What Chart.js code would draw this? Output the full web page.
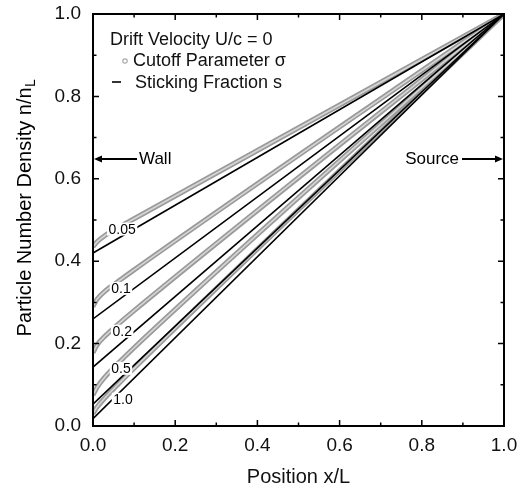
<!DOCTYPE html>
<html>
<head>
<meta charset="utf-8">
<script src="https://cdn.jsdelivr.net/npm/chart.js@4.4.1/dist/chart.umd.min.js"></script>
<style>
html,body{margin:0;padding:0;background:#fff;}
#wrap{width:531px;height:489px;position:relative;}
</style>
</head>
<body>
<div id="wrap"><canvas id="c" width="531" height="489"></canvas></div>
<script>
// ---------------- data ----------------
const xTickValues = [0, 0.2, 0.4, 0.6, 0.8, 1.0];
const yTickValues = [0, 0.2, 0.4, 0.6, 0.8, 1.0];
const caseLabels = ['0.05', '0.1', '0.2', '0.5', '1.0'];

// Sticking fraction s (black lines)
const stickX = [0, 1.0];
const stick005 = [0.420, 1.0];
const stick010 = [0.260, 1.0];
const stick020 = [0.143, 1.0];
const stick050 = [0.053, 1.0];
const stick100 = [0.018, 1.0];

// Cutoff parameter sigma (grey open-circle curves)
const cutX = [0, 0.01, 0.03, 0.06, 0.10, 1.0];
const cut005 = [0.435, 0.447, 0.463, 0.481, 0.503, 1.0];
const cut010 = [0.290, 0.308, 0.328, 0.350, 0.379, 1.0];
const cut020 = [0.178, 0.197, 0.219, 0.246, 0.280, 1.0];
const cut050 = [0.075, 0.094, 0.120, 0.151, 0.190, 1.0];
const cut100 = [0.030, 0.046, 0.069, 0.100, 0.140, 1.0];

// curve-label anchors (x, y in data units)
const labelX = [0.071, 0.068, 0.071, 0.068, 0.073];
const labelY = [0.478, 0.334, 0.230, 0.140, 0.065];

const wallLevel = 0.648;   // y of the Wall / Source arrows

// ---------------- build ----------------
const FONT = "'Liberation Sans', Arial, Helvetica, sans-serif";
const pts = (xs, ys) => xs.map((x, i) => ({x: x, y: ys[i]}));
const stickSeries = [stick005, stick010, stick020, stick050, stick100];
const cutSeries = [cut005, cut010, cut020, cut050, cut100];

const datasets = [];
stickSeries.forEach((s, i) => datasets.push({
  label: 'Sticking Fraction s = ' + caseLabels[i],
  data: pts(stickX, s), borderColor: '#000', borderWidth: 1.6,
  pointRadius: 0, fill: false, tension: 0, order: 1
}));
cutSeries.forEach((s, i) => datasets.push({
  label: 'Cutoff Parameter σ = ' + caseLabels[i] + ' (centre)',
  data: pts(cutX, s), borderColor: '#d6d6d6', borderWidth: 1.6,
  pointRadius: 0, fill: false, cubicInterpolationMode: 'monotone', order: 2
}));
cutSeries.forEach((s, i) => datasets.push({
  label: 'Cutoff Parameter σ = ' + caseLabels[i],
  data: pts(cutX, s), borderColor: '#9a9a9a', borderWidth: 5,
  pointRadius: 0, fill: false, cubicInterpolationMode: 'monotone', order: 3
}));

const decor = {
  id: 'decor',
  afterDatasetsDraw(chart) {
    const ctx = chart.ctx, xs = chart.scales.x, ys = chart.scales.y;
    ctx.save();
    ctx.font = '14px ' + FONT;
    ctx.textAlign = 'center';
    ctx.textBaseline = 'middle';
    caseLabels.forEach((t, i) => {
      const px = xs.getPixelForValue(labelX[i]), py = ys.getPixelForValue(labelY[i]);
      const w = ctx.measureText(t).width;
      ctx.fillStyle = '#fff';
      ctx.fillRect(px - w / 2 - 1.5, py - 6.5, w + 3, 13);
      ctx.fillStyle = '#000';
      ctx.fillText(t, px, py + 1);
    });
    ctx.restore();
  },
  afterDraw(chart) {
    const ctx = chart.ctx, a = chart.chartArea, xs = chart.scales.x, ys = chart.scales.y;
    ctx.save();
    // frame
    ctx.strokeStyle = '#000';
    ctx.lineWidth = 2;
    ctx.strokeRect(a.left, a.top, a.right - a.left, a.bottom - a.top);
    // inward ticks, all four sides
    ctx.lineWidth = 1.5;
    for (let k = 0; k <= 10; k++) {
      const v = k / 10, len = (k % 2 === 0) ? 6 : 3.5;
      const px = xs.getPixelForValue(v), py = ys.getPixelForValue(v);
      ctx.beginPath();
      ctx.moveTo(px, a.bottom); ctx.lineTo(px, a.bottom - len);
      ctx.moveTo(px, a.top); ctx.lineTo(px, a.top + len);
      ctx.moveTo(a.left, py); ctx.lineTo(a.left + len, py);
      ctx.moveTo(a.right, py); ctx.lineTo(a.right - len, py);
      ctx.stroke();
    }
    // legend block
    ctx.fillStyle = '#111';
    ctx.font = '18px ' + FONT;
    ctx.textAlign = 'left';
    ctx.textBaseline = 'alphabetic';
    ctx.fillText('Drift Velocity U/c = 0', a.left + 17, a.top + 31);
    ctx.fillText('Cutoff Parameter σ', a.left + 40, a.top + 52);
    ctx.fillText('Sticking Fraction s', a.left + 42, a.top + 74);
    ctx.strokeStyle = '#aaaaaa';
    ctx.lineWidth = 1.2;
    ctx.beginPath(); ctx.arc(a.left + 32, a.top + 47, 2.2, 0, Math.PI * 2); ctx.stroke();
    ctx.strokeStyle = '#000';
    ctx.lineWidth = 1.6;
    ctx.beginPath(); ctx.moveTo(a.left + 19, a.top + 68); ctx.lineTo(a.left + 28, a.top + 68); ctx.stroke();
    // Wall / Source arrows
    const ay = ys.getPixelForValue(wallLevel);
    ctx.lineWidth = 1.8;
    ctx.fillStyle = '#000';
    ctx.beginPath(); ctx.moveTo(a.left + 44, ay); ctx.lineTo(a.left + 7, ay); ctx.stroke();
    ctx.beginPath(); ctx.moveTo(a.left + 1, ay); ctx.lineTo(a.left + 9, ay - 3.5); ctx.lineTo(a.left + 9, ay + 3.5); ctx.closePath(); ctx.fill();
    ctx.beginPath(); ctx.moveTo(a.right - 42, ay); ctx.lineTo(a.right - 7, ay); ctx.stroke();
    ctx.beginPath(); ctx.moveTo(a.right - 1, ay); ctx.lineTo(a.right - 9, ay - 3.5); ctx.lineTo(a.right - 9, ay + 3.5); ctx.closePath(); ctx.fill();
    ctx.font = '17px ' + FONT;
    ctx.textBaseline = 'middle';
    ctx.textAlign = 'left';
    ctx.fillText('Wall', a.left + 46, ay);
    ctx.textAlign = 'right';
    ctx.fillText('Source', a.right - 45, ay);
    // y-axis title with subscript
    ctx.translate(31, (a.top + a.bottom) / 2 - 12);
    ctx.rotate(-Math.PI / 2);
    ctx.font = '20px ' + FONT;
    ctx.textAlign = 'left';
    ctx.textBaseline = 'alphabetic';
    const main = 'Particle Number Density n/n';
    const wMain = ctx.measureText(main).width;
    ctx.font = '14px ' + FONT;
    const wSub = ctx.measureText('L').width;
    const start = -(wMain + wSub) / 2;
    ctx.font = '20px ' + FONT;
    ctx.fillText(main, start, 0);
    ctx.font = '14px ' + FONT;
    ctx.fillText('L', start + wMain + 0.5, 4);
    ctx.restore();
  }
};

new Chart(document.getElementById('c'), {
  type: 'line',
  data: { datasets: datasets },
  options: {
    responsive: false,
    animation: false,
    events: [],
    layout: { padding: { left: 0, right: 27, top: 14, bottom: 0 } },
    plugins: { legend: { display: false }, tooltip: { enabled: false } },
    scales: {
      x: {
        type: 'linear', min: 0, max: 1,
        afterFit: s => { s.height = 63; s.paddingLeft = 0; s.paddingRight = 0; },
        afterBuildTicks: s => { s.ticks = xTickValues.map(v => ({value: v})); },
        ticks: { font: { size: 19, family: FONT }, color: '#111', padding: 8,
                 maxRotation: 0, callback: v => Number(v).toFixed(1) },
        grid: { display: false, drawTicks: false },
        border: { display: false },
        title: { display: true, text: 'Position x/L', color: '#111',
                 font: { size: 20, family: FONT }, padding: { top: 0, bottom: 0 } }
      },
      y: {
        type: 'linear', min: 0, max: 1,
        afterFit: s => { s.width = 93; s.paddingTop = 0; s.paddingBottom = 0; },
        afterBuildTicks: s => { s.ticks = yTickValues.map(v => ({value: v})); },
        ticks: { font: { size: 19, family: FONT }, color: '#111', padding: 12,
                 callback: v => Number(v).toFixed(1) },
        grid: { display: false, drawTicks: false },
        border: { display: false }
      }
    }
  },
  plugins: [decor]
});
</script>
</body>
</html>
